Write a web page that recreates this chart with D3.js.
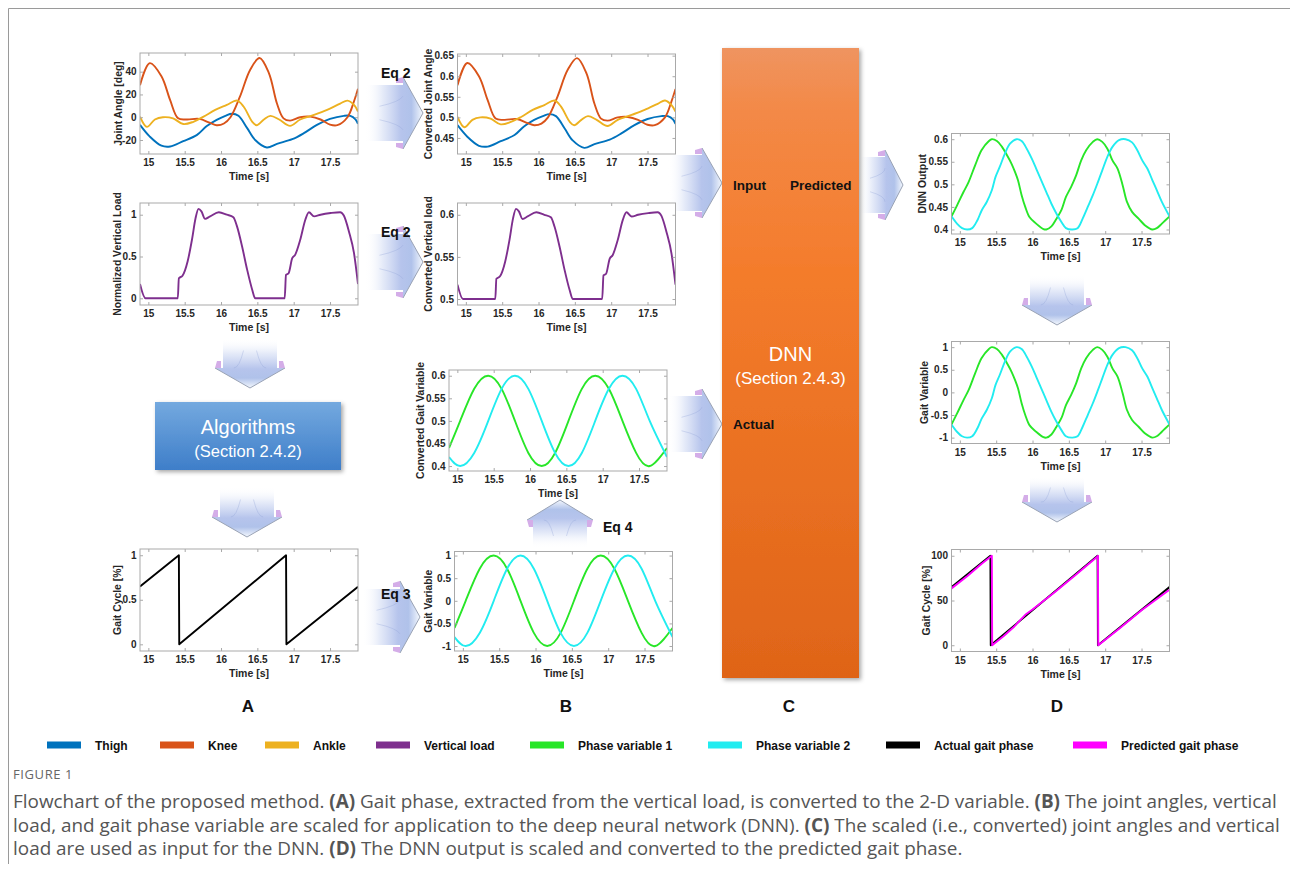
<!DOCTYPE html>
<html><head><meta charset="utf-8">
<script src="https://cdn.jsdelivr.net/npm/d3@7"></script>
<style>
body{margin:0;background:#fff}
svg{display:block}
</style>
</head><body>
<svg id="c" width="1290" height="886"></svg>
<script>
// ---------------- DATA ----------------
const timeDomain = [14.885, 17.885];
const xTicks = [15, 15.5, 16, 16.5, 17, 17.5];

const thighT   = [14.885,15.02,15.18,15.3,15.48,15.67,15.8,15.94,16.06,16.15,16.24,16.36,16.47,16.63,16.77,16.98,17.14,17.32,17.5,17.69,17.78,17.85,17.885];
const thighDeg = [-6.7,-17,-25,-25.7,-21,-15.5,-8,-2.3,1.2,3,1.2,-9.6,-20,-26.6,-23.4,-19.3,-14,-6.7,-1.5,1.2,1.2,-1.8,-5.8];
const thighConv= [0.481,0.453,0.431,0.429,0.442,0.457,0.478,0.494,0.503,0.508,0.503,0.473,0.444,0.426,0.435,0.446,0.461,0.481,0.496,0.503,0.503,0.495,0.484];

const kneeT    = [14.885,15.02,15.18,15.3,15.41,15.53,15.7,15.85,15.94,16.04,16.13,16.26,16.4,16.53,16.66,16.77,16.86,16.95,17.09,17.23,17.37,17.5,17.6,17.74,17.83,17.885];
const kneeDeg  = [28,47.5,36,15,-1,-2,-1.5,-5,-7,-5.5,0,18,41.5,52,38.6,12,-1,-3,0,0.5,-2,-6.5,-7,0,14,25];
const kneeConv = [0.578,0.632,0.6,0.542,0.497,0.494,0.496,0.486,0.481,0.485,0.5,0.55,0.615,0.644,0.607,0.533,0.497,0.492,0.5,0.501,0.494,0.482,0.481,0.5,0.539,0.569];

const ankleT   = [14.885,14.98,15.09,15.2,15.34,15.48,15.62,15.76,15.92,16.08,16.22,16.31,16.43,16.49,16.59,16.68,16.8,16.95,17.09,17.28,17.46,17.64,17.74,17.83,17.885];
const ankleDeg = [0.5,-8.5,-2,0,-1,-6,-4,0.5,6.4,10.8,14.6,9.4,-4,-7,-2,1.2,-2,-7.6,-2,2,6.4,12,14.6,10.8,5];
const ankleConv= [0.501,0.476,0.494,0.5,0.497,0.483,0.489,0.501,0.518,0.53,0.541,0.526,0.489,0.481,0.494,0.503,0.494,0.479,0.494,0.506,0.518,0.533,0.541,0.53,0.514];

const loadT    = [14.885,14.96,15.405,15.42,15.47,15.54,15.6,15.65,15.69,15.73,15.78,15.85,15.97,16.08,16.17,16.22,16.29,16.36,16.43,16.47,16.876,16.894,16.93,16.98,17.02,17.09,17.16,17.21,17.28,17.37,17.51,17.64,17.69,17.76,17.83,17.885];
const loadNorm = [0.17,0,0,0.24,0.27,0.44,0.7,0.96,1.07,1.04,0.95,0.98,1.03,1.0,0.97,0.86,0.62,0.34,0.1,0,0,0.28,0.3,0.48,0.52,0.7,0.94,1.03,0.98,1.0,1.02,1.03,0.99,0.8,0.54,0.17];
const loadConv = [0.517,0.5,0.5,0.524,0.527,0.544,0.57,0.596,0.607,0.604,0.595,0.598,0.603,0.6,0.597,0.586,0.562,0.534,0.51,0.5,0.5,0.528,0.53,0.548,0.552,0.57,0.594,0.603,0.598,0.6,0.602,0.603,0.599,0.58,0.554,0.517];

const gaitT     = [14.885,15.42,15.425,16.895,16.9,17.885];
const gaitCycle = [0.65,1,0,1,0,0.645];

const phaseT     = [14.885,15.039,15.232,15.425,15.609,15.793,15.977,16.161,16.345,16.529,16.713,16.897,17.085,17.272,17.46,17.647,17.885];
const phase1     = [-0.6,0,0.71,1,0.71,0,-0.71,-1,-0.71,0,0.71,1,0.71,0,-0.71,-1,-0.6];
const phase2     = [-0.8,-1,-0.71,0,0.71,1,0.71,0,-0.71,-1,-0.71,0,0.71,1,0.71,0,-0.8];
const phase1Conv = [0.44,0.5,0.571,0.6,0.571,0.5,0.429,0.4,0.429,0.5,0.571,0.6,0.571,0.5,0.429,0.4,0.44];
const phase2Conv = [0.42,0.4,0.429,0.5,0.571,0.6,0.571,0.5,0.429,0.4,0.429,0.5,0.571,0.6,0.571,0.5,0.42];

const dnn1T   = [14.885,14.96,15.05,15.12,15.21,15.3,15.4,15.44,15.51,15.58,15.65,15.71,15.76,15.8,15.85,15.9,15.96,16.05,16.15,16.19,16.26,16.33,16.4,16.46,16.53,16.6,16.67,16.74,16.83,16.89,16.96,17.03,17.1,17.17,17.24,17.3,17.37,17.46,17.55,17.65,17.71,17.78,17.885];
const dnn1Out = [0.429,0.453,0.483,0.505,0.542,0.576,0.596,0.6,0.596,0.583,0.564,0.546,0.527,0.509,0.476,0.45,0.427,0.413,0.401,0.4,0.407,0.424,0.444,0.472,0.494,0.52,0.553,0.576,0.594,0.6,0.594,0.579,0.553,0.535,0.498,0.461,0.439,0.424,0.409,0.4,0.403,0.413,0.429];
const pred1   = [-0.71,-0.47,-0.17,0.05,0.42,0.76,0.96,1.0,0.96,0.83,0.64,0.46,0.27,0.09,-0.24,-0.5,-0.73,-0.87,-0.99,-1.0,-0.93,-0.76,-0.56,-0.28,-0.06,0.2,0.53,0.76,0.94,1.0,0.94,0.79,0.53,0.35,-0.02,-0.39,-0.61,-0.76,-0.91,-1.0,-0.97,-0.87,-0.71];
const dnn2T   = [14.885,14.96,15.03,15.1,15.17,15.24,15.3,15.37,15.44,15.49,15.55,15.62,15.69,15.78,15.85,15.92,15.99,16.05,16.12,16.19,16.26,16.33,16.4,16.46,16.55,16.62,16.69,16.76,16.83,16.9,16.96,17.03,17.1,17.19,17.28,17.37,17.44,17.51,17.58,17.65,17.71,17.78,17.885];
const dnn2Out = [0.429,0.413,0.403,0.4,0.403,0.42,0.442,0.461,0.487,0.516,0.539,0.568,0.59,0.6,0.596,0.579,0.557,0.535,0.509,0.483,0.457,0.435,0.416,0.403,0.4,0.403,0.424,0.45,0.476,0.505,0.531,0.561,0.583,0.598,0.6,0.593,0.576,0.553,0.535,0.509,0.487,0.461,0.429];
const pred2   = [-0.71,-0.87,-0.97,-1.0,-0.97,-0.8,-0.58,-0.39,-0.13,0.16,0.39,0.68,0.9,1.0,0.96,0.79,0.57,0.35,0.09,-0.17,-0.43,-0.65,-0.84,-0.97,-1.0,-0.97,-0.76,-0.5,-0.24,0.05,0.31,0.61,0.83,0.98,1.0,0.93,0.76,0.53,0.35,0.09,-0.13,-0.39,-0.71];

const actualT   = [14.885,15.42,15.425,16.895,16.9,17.885];
const actualPct = [65,100,0,100,0,65];
const predT     = [14.885,15.1,15.3,15.44,15.445,15.6,15.75,15.9,16.0,16.3,16.6,16.89,16.9,16.905,17.2,17.5,17.885];
const predPct   = [63.5,77,91,100,0,10,21,34,40,59,79,99,100,0,19,39,62];

const legendLabels = ["Thigh","Knee","Ankle","Vertical load","Phase variable 1","Phase variable 2","Actual gait phase","Predicted gait phase"];
const colors = {thigh:"#0072BD", knee:"#D95319", ankle:"#EDB120", load:"#7E2F8E", p1:"#28e628", p2:"#22ecf0", actual:"#000000", pred:"#ff00ff"};
const legendColors = [colors.thigh,colors.knee,colors.ankle,colors.load,colors.p1,colors.p2,colors.actual,colors.pred];

// ---------------- DRAW ----------------
const svg = d3.select("#c");
const defs = svg.append("defs");
const FONT = '"Liberation Sans",Arial,Helvetica,sans-serif';
const CAPFONT = '"Open Sans","Noto Sans",sans-serif';
svg.style("font-family", FONT);

svg.append("line").attr("x1",8.5).attr("x2",1290).attr("y1",8.5).attr("y2",8.5).attr("stroke","#9a9a9a");
svg.append("line").attr("x1",8.5).attr("x2",8.5).attr("y1",8.5).attr("y2",864).attr("stroke","#9a9a9a");

const f = defs.append("filter").attr("id","shadow").attr("x","-10%").attr("y","-10%").attr("width","130%").attr("height","130%");
f.append("feDropShadow").attr("dx",2).attr("dy",2).attr("stdDeviation",2).attr("flood-color","#000").attr("flood-opacity",0.35);

function arrowGrad(id, x1,y1,x2,y2){
  const g = defs.append("linearGradient").attr("id",id).attr("x1",x1).attr("y1",y1).attr("x2",x2).attr("y2",y2);
  [[0,"#ffffff",0],[0.3,"#e3e9f8",0.9],[0.62,"#b6c4ec",1],[0.8,"#b0c2ea",1],[1,"#f4f8fd",1]].forEach(s=>{
    g.append("stop").attr("offset",s[0]).attr("stop-color",s[1]).attr("stop-opacity",s[2]);
  });
}
arrowGrad("gR",0,0,1,0); arrowGrad("gD",0,0,0,1); arrowGrad("gU",0,1,0,0);

function arrow(tipX, tipY, dir, len, bodyW, headW, headL){
  const map = dir==="right" ? ([u,v])=>[tipX-len+u, tipY+v]
            : dir==="down"  ? ([u,v])=>[tipX+v, tipY-len+u]
                            : ([u,v])=>[tipX+v, tipY+len-u];
  const grad = dir==="right" ? "gR" : dir==="down" ? "gD" : "gU";
  const hb = len-headL;
  const pts = [[0,-bodyW/2],[hb,-bodyW/2],[hb,-headW/2],[len,0],[hb,headW/2],[hb,bodyW/2],[0,bodyW/2]].map(map);
  const g = svg.append("g");
  g.append("path").attr("d","M"+pts.join("L")+"Z").attr("fill",`url(#${grad})`);
  [-1,1].forEach(s=>{
    const a = map([len*0.25, s*bodyW*0.12]), b = map([len*0.6, s*bodyW*0.2]), c = map([hb, s*bodyW*0.3]);
    g.append("path").attr("d",`M${a}Q${b} ${c}`).attr("fill","none").attr("stroke","#8e9fd6").attr("stroke-opacity",0.4).attr("stroke-width",0.8);
  });
  const h1 = map([hb,-headW/2]), tp = map([len,0]), h2 = map([hb,headW/2]);
  g.append("path").attr("d",`M${h1}L${tp}L${h2}`).attr("fill","none").attr("stroke","#9aa3b5").attr("stroke-width",1);
  [-1,1].forEach(s=>{
    const q = [[hb-7, s*(headW/2-6)],[hb, s*(headW/2-6)],[hb, s*headW/2],[hb-7, s*(headW/2-2)]].map(map);
    g.append("path").attr("d","M"+q.join("L")+"Z").attr("fill","#cfa4e6").attr("opacity",0.9);
  });
}

arrow(423,113,"right",58,56,72,20);
arrow(423,262,"right",58,56,72,20);
arrow(420,617,"right",58,56,72,20);
arrow(722,183,"right",54,56,70,20);
arrow(722,424,"right",54,56,70,20);
arrow(903,185,"right",44,56,70,18);
arrow(250,388,"down",50,54,70,20);
arrow(247,537,"down",50,54,70,20);
arrow(1057,325,"down",50,54,70,20);
arrow(1057,522,"down",46,54,70,20);
arrow(560,500,"up",48,54,66,20);

[["Eq 2",381,78],["Eq 2",381,237],["Eq 3",381,599],["Eq 4",603,532]].forEach(d=>{
  svg.append("text").attr("x",d[1]).attr("y",d[2]).text(d[0]).attr("font-size",14).attr("font-weight","bold").attr("fill","#111");
});

const og = defs.append("linearGradient").attr("id","orange").attr("x1",0).attr("y1",0).attr("x2",0).attr("y2",1);
[[0,"#ef9460"],[0.1,"#f38947"],[0.35,"#f47c2c"],[1,"#df6418"]].forEach(s=>og.append("stop").attr("offset",s[0]).attr("stop-color",s[1]));
svg.append("rect").attr("x",722).attr("y",48).attr("width",137).attr("height",630).attr("fill","url(#orange)").attr("filter","url(#shadow)");
svg.append("text").attr("x",790.5).attr("y",361).attr("text-anchor","middle").attr("fill","#fff").attr("font-size",20).text("DNN");
svg.append("text").attr("x",790.5).attr("y",384).attr("text-anchor","middle").attr("fill","#fff").attr("font-size",17).text("(Section 2.4.3)");
svg.append("text").attr("x",733).attr("y",190).attr("fill","#111").attr("font-size",13.5).attr("font-weight","bold").text("Input");
svg.append("text").attr("x",790).attr("y",190).attr("fill","#111").attr("font-size",13.5).attr("font-weight","bold").text("Predicted");
svg.append("text").attr("x",733).attr("y",429).attr("fill","#111").attr("font-size",13.5).attr("font-weight","bold").text("Actual");

const bg = defs.append("linearGradient").attr("id","blue").attr("x1",0).attr("y1",0).attr("x2",0).attr("y2",1);
[[0,"#74a9df"],[1,"#3e7ec9"]].forEach(s=>bg.append("stop").attr("offset",s[0]).attr("stop-color",s[1]));
svg.append("rect").attr("x",155).attr("y",402).attr("width",186).attr("height",68).attr("fill","url(#blue)").attr("filter","url(#shadow)");
svg.append("text").attr("x",248).attr("y",434).attr("text-anchor","middle").attr("fill","#fff").attr("font-size",20).text("Algorithms");
svg.append("text").attr("x",248).attr("y",457).attr("text-anchor","middle").attr("fill","#fff").attr("font-size",16.5).text("(Section 2.4.2)");

// ---------------- PANELS ----------------
let clipN = 0;
function panel(p){
  const g = svg.append("g");
  const x = d3.scaleLinear().domain(timeDomain).range([p.x, p.x+p.w]);
  const y = d3.scaleLinear().domain(p.yd).range([p.y+p.h, p.y]);
  const cid = "clip"+(clipN++);
  defs.append("clipPath").attr("id",cid).append("rect").attr("x",p.x).attr("y",p.y).attr("width",p.w).attr("height",p.h);
  g.append("rect").attr("x",p.x).attr("y",p.y).attr("width",p.w).attr("height",p.h).attr("fill","#fff");
  p.series.forEach(s=>{
    const line = d3.line().x(d=>x(d[0])).y(d=>y(d[1])).curve(s.curve || d3.curveMonotoneX);
    g.append("path").datum(d3.zip(s.t, s.v)).attr("d",line).attr("fill","none")
      .attr("stroke",s.color).attr("stroke-width",1.9).attr("stroke-linejoin","round").attr("clip-path",`url(#${cid})`);
  });
  g.append("rect").attr("x",p.x).attr("y",p.y).attr("width",p.w).attr("height",p.h).attr("fill","none").attr("stroke","#a9a9a9").attr("stroke-width",1);
  const fmt = d=>String(d);
  const styleAx = (ax, labels)=>{
    ax.select(".domain").remove();
    ax.attr("font-family",FONT).attr("font-size",10).attr("font-weight","bold");
    ax.selectAll("line").attr("stroke","#a9a9a9");
    ax.selectAll("text").attr("fill","#262626");
    if(!labels) ax.selectAll("text").remove();
  };
  styleAx(g.append("g").attr("transform",`translate(0,${p.y+p.h})`).call(d3.axisBottom(x).tickValues(xTicks).tickSizeInner(-3).tickSizeOuter(0).tickPadding(5).tickFormat(fmt)), true);
  styleAx(g.append("g").attr("transform",`translate(0,${p.y})`).call(d3.axisTop(x).tickValues(xTicks).tickSizeInner(-3).tickSizeOuter(0)), false);
  styleAx(g.append("g").attr("transform",`translate(${p.x},0)`).call(d3.axisLeft(y).tickValues(p.yt).tickSizeInner(-3).tickSizeOuter(0).tickPadding(3.5).tickFormat(fmt)), true);
  styleAx(g.append("g").attr("transform",`translate(${p.x+p.w},0)`).call(d3.axisRight(y).tickValues(p.yt).tickSizeInner(-3).tickSizeOuter(0)), false);
  g.append("text").attr("x",p.x+p.w/2).attr("y",p.y+p.h+26).attr("text-anchor","middle")
    .attr("font-size",10.5).attr("font-weight","bold").attr("fill","#262626").text("Time [s]");
  const lx = p.x + p.lo, ly = p.y + p.h/2;
  g.append("text").attr("transform",`translate(${lx},${ly}) rotate(-90)`).attr("text-anchor","middle").attr("dy","0.35em")
    .attr("font-size",10.4).attr("font-weight","bold").attr("fill","#262626").text(p.yl);
}

const CR = d3.curveCatmullRom, NAT = d3.curveNatural, LIN = d3.curveLinear;

panel({x:140,y:53,w:218,h:101,yd:[-32.3,56.4],yt:[-20,0,20,40],yl:"Joint Angle [deg]",lo:-22,
  series:[{t:thighT,v:thighDeg,color:colors.thigh,curve:CR},{t:kneeT,v:kneeDeg,color:colors.knee,curve:CR},{t:ankleT,v:ankleDeg,color:colors.ankle,curve:CR}]});
panel({x:140,y:203,w:218,h:102,yd:[-0.08,1.14],yt:[0,0.5,1],yl:"Normalized Vertical Load",lo:-23,
  series:[{t:loadT,v:loadNorm,color:colors.load}]});
panel({x:140,y:549,w:218,h:102,yd:[-0.075,1.07],yt:[0,0.5,1],yl:"Gait Cycle [%]",lo:-22.7,
  series:[{t:gaitT,v:gaitCycle,color:"#000",curve:LIN}]});

panel({x:457.5,y:54,w:218,h:100,yd:[0.411,0.654],yt:[0.45,0.5,0.55,0.6,0.65],yl:"Converted Joint Angle",lo:-29.5,
  series:[{t:thighT,v:thighConv,color:colors.thigh,curve:CR},{t:kneeT,v:kneeConv,color:colors.knee,curve:CR},{t:ankleT,v:ankleConv,color:colors.ankle,curve:CR}]});
panel({x:457.5,y:203,w:218,h:102,yd:[0.4929,0.614],yt:[0.5,0.55,0.6],yl:"Converted Vertical load",lo:-29.4,
  series:[{t:loadT,v:loadConv,color:colors.load}]});
panel({x:449,y:370,w:218,h:101,yd:[0.389,0.6127],yt:[0.4,0.45,0.5,0.55,0.6],yl:"Converted Gait Variable",lo:-29,
  series:[{t:phaseT,v:phase1Conv,color:colors.p1,curve:NAT},{t:phaseT,v:phase2Conv,color:colors.p2,curve:NAT}]});
panel({x:454.5,y:551.5,w:218,h:99.5,yd:[-1.11,1.09],yt:[-1,-0.5,0,0.5,1],yl:"Gait Variable",lo:-26,
  series:[{t:phaseT,v:phase1,color:colors.p1,curve:NAT},{t:phaseT,v:phase2,color:colors.p2,curve:NAT}]});

panel({x:951.5,y:133.5,w:218,h:100.5,yd:[0.39,0.6126],yt:[0.4,0.45,0.5,0.55,0.6],yl:"DNN Output",lo:-28.7,
  series:[{t:dnn1T,v:dnn1Out,color:colors.p1,curve:CR},{t:dnn2T,v:dnn2Out,color:colors.p2,curve:CR}]});
panel({x:951.5,y:341.5,w:218,h:102,yd:[-1.13,1.125],yt:[-1,-0.5,0,0.5,1],yl:"Gait Variable",lo:-27,
  series:[{t:dnn1T,v:pred1,color:colors.p1,curve:CR},{t:dnn2T,v:pred2,color:colors.p2,curve:CR}]});
panel({x:951.5,y:549.5,w:218,h:102,yd:[-7,107],yt:[0,50,100],yl:"Gait Cycle [%]",lo:-25,
  series:[{t:actualT,v:actualPct,color:colors.actual,curve:LIN},{t:predT,v:predPct,color:colors.pred,curve:LIN}]});

[["A",248],["B",566],["C",789],["D",1057]].forEach(d=>{
  svg.append("text").attr("x",d[1]).attr("y",712).attr("text-anchor","middle").attr("font-size",17).attr("font-weight","bold").attr("fill","#111").text(d[0]);
});

const legX = [47,160,265,376,530,708,886,1073];
legendLabels.forEach((l,i)=>{
  svg.append("rect").attr("x",legX[i]).attr("y",741.5).attr("width",34).attr("height",7).attr("fill",legendColors[i]);
  svg.append("text").attr("x",legX[i]+48).attr("y",749.5).attr("font-size",12).attr("font-weight","bold").attr("fill","#111").text(l);
});

// caption
svg.append("text").attr("x",13).attr("y",779).style("font-family",CAPFONT).attr("font-size",13)
  .attr("letter-spacing",0.6).attr("fill","#666").text("FIGURE 1");
const capLines = [
  [["Flowchart of the proposed method. ",0],["(A)",1],[" Gait phase, extracted from the vertical load, is converted to the 2-D variable. ",0],["(B)",1],[" The joint angles, vertical",0]],
  [["load, and gait phase variable are scaled for application to the deep neural network (DNN). ",0],["(C)",1],[" The scaled (i.e., converted) joint angles and vertical",0]],
  [["load are used as input for the DNN. ",0],["(D)",1],[" The DNN output is scaled and converted to the predicted gait phase.",0]]
];
const capNodes = capLines.map((ln,i)=>{
  const t = svg.append("text").attr("x",13).attr("y",808+i*23.5).style("font-family",CAPFONT).attr("font-size",15).attr("fill","#555");
  ln.forEach(s=>t.append("tspan").attr("font-weight",s[1]?"bold":"normal").text(s[0]));
  return t;
});
const wMax = d3.max(capNodes, t=>t.node().getComputedTextLength());
const fs = Math.min(19, 15*1268/wMax);
capNodes.forEach(t=>t.attr("font-size",fs));
</script>
</body></html>
